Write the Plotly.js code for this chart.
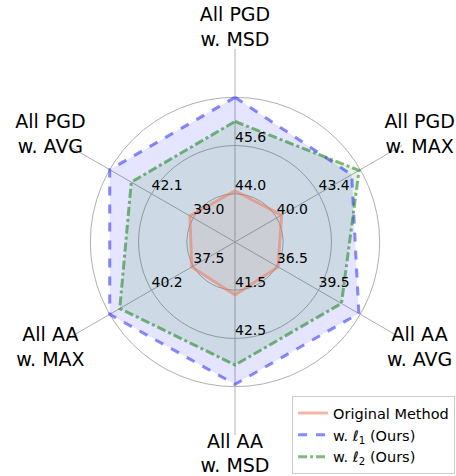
<!DOCTYPE html>
<html>
<head>
<meta charset="utf-8">
<script src="https://cdn.plot.ly/plotly-3.0.1.min.js"></script>
<style>html,body{margin:0;padding:0;background:#fff}#chart{width:456px;height:476px}</style>
</head>
<body>
<div id="chart"></div>
<script>
// Axes (clockwise from top)
const categories = ["All PGD<br>w. MSD", "All PGD<br>w. MAX", "All AA<br>w. AVG", "All AA<br>w. MSD", "All AA<br>w. MAX", "All PGD<br>w. AVG"];
// Per-axis tick values at ring 1 and ring 2
const ticksRing1 = [44.0, 40.0, 36.5, 41.5, 37.5, 39.0];
const ticksRing2 = [45.6, 43.4, 39.5, 42.5, 40.2, 42.1];
// Series
const originalMethod = [44.1, 40.4, 36.6, 41.6, 37.6, 39.25];
const withL1 = [47.2, 46.1, 42.4, 43.45, 42.9, 45.2];
const withL2 = [46.4, 46.7, 41.15, 43.05, 42.25, 43.6];
const seriesNames = ["Original Method", "w. <i>ℓ</i><sub>1</sub> (Ours)", "w. <i>ℓ</i><sub>2</sub> (Ours)"];

function norm(vals) {
  return vals.map((v, i) => 1 + (v - ticksRing1[i]) / (ticksRing2[i] - ticksRing1[i]));
}
function closed(a) { return a.concat([a[0]]); }

const thetaC = closed(categories);
const styles = [
  {line: 'rgba(236,120,90,0.55)', fill: 'rgba(250,110,90,0.10)', dash: 'solid'},
  {line: 'rgba(40,40,255,0.55)', fill: 'rgba(0,0,255,0.10)', dash: 'dash'},
  {line: 'rgba(20,130,20,0.55)', fill: 'rgba(0,128,0,0.10)', dash: 'dashdot'}
];
const series = [originalMethod, withL1, withL2];

const traces = [];
// spokes
const spokeR = [], spokeT = [];
categories.forEach(c => { spokeR.push(0, 4, null); spokeT.push(c, c, null); });
traces.push({type: 'scatterpolar', r: spokeR, theta: spokeT, mode: 'lines',
  line: {color: '#b0b0b0', width: 1}, connectgaps: false, showlegend: false, hoverinfo: 'skip'});
// fills
series.forEach((s, k) => {
  traces.push({
    type: 'scatterpolar', r: closed(norm(s)), theta: thetaC, mode: 'lines',
    fill: 'toself', fillcolor: styles[k].fill, line: {width: 0, color: 'rgba(0,0,0,0)'},
    showlegend: false, hoverinfo: 'skip'
  });
});
// lines
series.forEach((s, k) => {
  traces.push({
    type: 'scatterpolar', r: closed(norm(s)), theta: thetaC, mode: 'lines',
    name: seriesNames[k], line: {width: 3, color: styles[k].line, dash: styles[k].dash}
  });
});
// tick labels
[ticksRing1, ticksRing2].forEach((t, j) => {
  traces.push({
    type: 'scatterpolar', r: categories.map(() => j + 1), theta: categories, mode: 'text',
    text: t.map(v => v.toFixed(1)), textposition: 'top right',
    textfont: {family: 'DejaVu Sans', size: 14, color: '#000'},
    showlegend: false, hoverinfo: 'skip', cliponaxis: false
  });
});
// category labels
traces.push({
  type: 'scatterpolar', r: categories.map(() => 4.42), theta: categories, mode: 'text',
  text: categories, textposition: 'middle center',
  textfont: {family: 'DejaVu Sans', size: 19, color: '#000'},
  showlegend: false, hoverinfo: 'skip', cliponaxis: false
});

const layout = {
  width: 456, height: 476,
  margin: {l: 18, r: 4, t: 25, b: 17, autoexpand: false},
  paper_bgcolor: '#fff',
  font: {family: 'DejaVu Sans', color: '#000'},
  polar: {
    domain: {x: [0, 1], y: [0, 1]},
    bgcolor: 'rgba(0,0,0,0)',
    radialaxis: {range: [0, 4.5], tickvals: [1, 2, 3], showticklabels: false, ticks: '',
      showline: false, gridcolor: '#b0b0b0', gridwidth: 1},
    angularaxis: {categoryorder: 'array', categoryarray: categories, rotation: 90, direction: 'clockwise',
      showticklabels: false, ticks: '', showline: false, showgrid: false}
  },
  legend: {
    xref: 'container', yref: 'container', x: 0.998, y: 0.004, xanchor: 'right', yanchor: 'bottom',
    bgcolor: 'rgba(255,255,255,0.85)', bordercolor: '#cccccc', borderwidth: 1,
    font: {family: 'DejaVu Sans', size: 14.5, color: '#000'}
  },
  showlegend: true
};
Plotly.newPlot('chart', traces, layout, {displayModeBar: false, staticPlot: true});
</script>
</body>
</html>
